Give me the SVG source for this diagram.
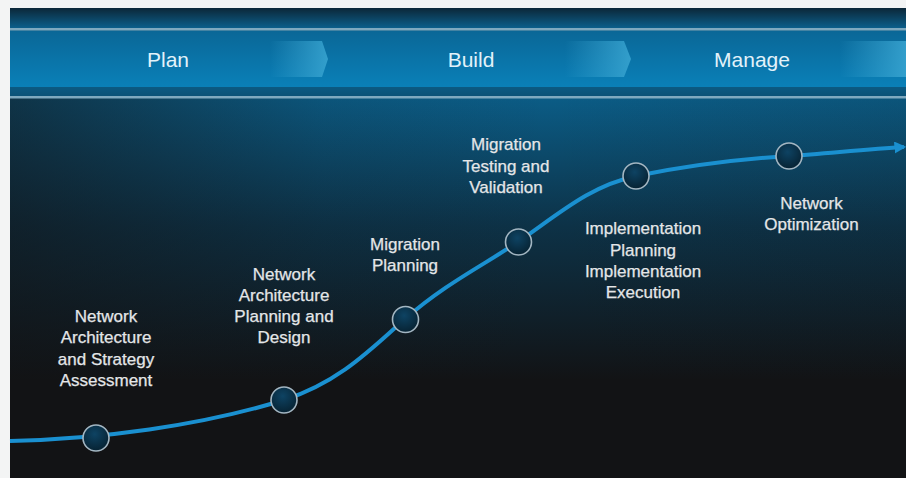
<svg xmlns="http://www.w3.org/2000/svg" width="906" height="478" viewBox="0 0 906 478">
<defs>
<linearGradient id="bg" gradientUnits="userSpaceOnUse" x1="0" y1="98" x2="0" y2="380">
<stop offset="0" stop-color="#0b5c86"/>
<stop offset="0.45" stop-color="#0d3247"/>
<stop offset="1" stop-color="#121315"/>
</linearGradient>
<linearGradient id="side" gradientUnits="userSpaceOnUse" x1="10" y1="0" x2="906" y2="0">
<stop offset="0" stop-color="#121315" stop-opacity="0.55"/>
<stop offset="0.35" stop-color="#121315" stop-opacity="0.1"/>
<stop offset="0.6" stop-color="#121315" stop-opacity="0"/>
<stop offset="1" stop-color="#121315" stop-opacity="0.1"/>
</linearGradient>
<linearGradient id="top" x1="0" y1="0" x2="0" y2="1">
<stop offset="0" stop-color="#0c2738"/>
<stop offset="1" stop-color="#0c5f8b"/>
</linearGradient>
<linearGradient id="band" x1="0" y1="0" x2="0" y2="1">
<stop offset="0" stop-color="#0a6797"/>
<stop offset="1" stop-color="#0a80b8"/>
</linearGradient>
<linearGradient id="below" x1="0" y1="0" x2="0" y2="1">
<stop offset="0" stop-color="#0b5a83"/>
<stop offset="1" stop-color="#0b5277"/>
</linearGradient>
<linearGradient id="hl" x1="0" y1="0" x2="1" y2="0">
<stop offset="0" stop-color="#3aa6d2" stop-opacity="0"/>
<stop offset="1" stop-color="#3aa6d2" stop-opacity="0.85"/>
</linearGradient>
<radialGradient id="dot" cx="0.45" cy="0.35" r="0.7">
<stop offset="0" stop-color="#0e4363"/>
<stop offset="1" stop-color="#06202f"/>
</radialGradient>
<marker id="arr" viewBox="0 0 10 10" refX="8" refY="5" markerWidth="3" markerHeight="3" orient="auto" markerUnits="strokeWidth">
<path d="M0,0 L10,5 L0,10 z" fill="#1a90d0"/>
</marker>
<style>
.hdr{font-family:"Liberation Sans",Arial,sans-serif;font-size:21px;fill:#e2f2fa;text-anchor:middle}
.lbl{font-family:"Liberation Sans",Arial,sans-serif;font-size:17px;fill:#e4e6e8;text-anchor:middle;stroke:#e4e6e8;stroke-width:0.25}
.node circle{fill:url(#dot);stroke:#a3b6c2;stroke-width:1.6}
.hlline{fill:#7fa9bf}
</style>
</defs>
<rect x="0" y="0" width="906" height="478" fill="#f3f4f4"/>
<rect x="10" y="8" width="896" height="470" fill="url(#bg)"/>
<rect x="10" y="98" width="896" height="380" fill="url(#side)"/>
<rect x="10" y="8" width="896" height="20" fill="url(#top)"/>
<rect x="10" y="28" width="896" height="2.5" class="hlline"/>
<rect x="10" y="31" width="896" height="56" fill="url(#band)"/>
<rect x="10" y="87" width="896" height="9" fill="url(#below)"/>
<rect x="10" y="96" width="896" height="2.5" class="hlline"/>
<path d="M270,41 L322,41 L328,59 L322,77 L270,77 z" fill="url(#hl)"/>
<path d="M565,41 L624,41 L631,59 L624,77 L565,77 z" fill="url(#hl)"/>
<path d="M840,41 L906,41 L906,77 L840,77 z" fill="url(#hl)"/>
<g id="phases">
<text class="hdr" x="168" y="67">Plan</text>
<text class="hdr" x="471" y="67">Build</text>
<text class="hdr" x="752" y="67">Manage</text>
</g>
<g id="connectors">
<path d="M10,441 C 100,439 200,426 284,400 C 340,382 372,348 405,319 C 445,284 482,266 518,242 C 560,213 590,186 636,176 C 690,165 740,159 789,156 C 830,153 870,149 904,147" fill="none" stroke="#1a90d0" stroke-width="4" marker-end="url(#arr)"/>
</g>
<g id="n1" class="node">
<circle cx="96" cy="438" r="13"/>
<text class="lbl" x="106" y="322">Network</text>
<text class="lbl" x="106" y="343.3">Architecture</text>
<text class="lbl" x="106" y="364.6">and Strategy</text>
<text class="lbl" x="106" y="386">Assessment</text>
</g>
<g id="n2" class="node">
<circle cx="284" cy="400" r="13"/>
<text class="lbl" x="284" y="280">Network</text>
<text class="lbl" x="284" y="301">Architecture</text>
<text class="lbl" x="284" y="322">Planning and</text>
<text class="lbl" x="284" y="343">Design</text>
</g>
<g id="n3" class="node">
<circle cx="405.5" cy="319.5" r="13"/>
<text class="lbl" x="405" y="250">Migration</text>
<text class="lbl" x="405" y="271">Planning</text>
</g>
<g id="n4" class="node">
<circle cx="518.5" cy="242" r="13"/>
<text class="lbl" x="506" y="150">Migration</text>
<text class="lbl" x="506" y="171.5">Testing and</text>
<text class="lbl" x="506" y="193">Validation</text>
</g>
<g id="n5" class="node">
<circle cx="636" cy="176" r="13"/>
<text class="lbl" x="643" y="234">Implementation</text>
<text class="lbl" x="643" y="255.5">Planning</text>
<text class="lbl" x="643" y="277">Implementation</text>
<text class="lbl" x="643" y="298">Execution</text>
</g>
<g id="n6" class="node">
<circle cx="789" cy="156" r="13"/>
<text class="lbl" x="811.5" y="209">Network</text>
<text class="lbl" x="811.5" y="230">Optimization</text>
</g>
</svg>
